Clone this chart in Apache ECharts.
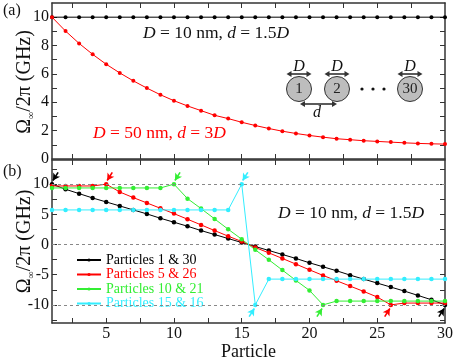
<!DOCTYPE html>
<html><head><meta charset="utf-8">
<script src="https://cdn.jsdelivr.net/npm/echarts@6/dist/echarts.min.js"></script>
<style>html,body{margin:0;padding:0;background:#fff}#c{width:463px;height:360px}</style>
</head><body><div id="c"></div>
<script>
const particles = [1,2,3,4,5,6,7,8,9,10,11,12,13,14,15,16,17,18,19,20,21,22,23,24,25,26,27,28,29,30];
// panel (a)
const aBlack = [10,10,10,10,10,10,10,10,10,10,10,10,10,10,10,10,10,10,10,10,10,10,10,10,10,10,10,10,10,10];
const aRed = [10,9.02,8.15,7.38,6.68,6.07,5.51,5.0,4.53,4.11,3.74,3.41,3.08,2.85,2.59,2.36,2.15,1.96,1.8,1.66,1.54,1.43,1.36,1.29,1.24,1.19,1.14,1.1,1.07,1.05];
// panel (b)
const names = ['Particles 1 & 30','Particles 5 & 26','Particles 10 & 21','Particles 15 & 16'];
const colors = ['#000000','#ff0000','#33ee33','#33eeff'];
const b1 = [10,9.15,8.43,7.71,7.05,6.39,5.73,5.07,4.35,3.69,3.03,2.31,1.65,0.99,0.33,-0.33,-0.99,-1.65,-2.31,-3.03,-3.69,-4.35,-5.07,-5.73,-6.39,-7.05,-7.71,-8.43,-9.15,-10];
const b5 = [9.7,9.7,9.7,9.7,10,8.7,7.77,6.89,6.0,5.12,4.19,3.25,2.31,1.38,0.5,-0.5,-1.38,-2.31,-3.25,-4.19,-5.12,-6.0,-6.89,-7.77,-8.7,-10,-9.7,-9.7,-9.7,-9.7];
const b10 = [9.37,9.37,9.37,9.37,9.37,9.37,9.37,9.37,9.37,10,7.6,5.95,4.24,2.53,0.88,-0.88,-2.53,-4.24,-5.95,-7.6,-10,-9.37,-9.37,-9.37,-9.37,-9.37,-9.37,-9.37,-9.37,-9.37];
const b15 = [5.73,5.73,5.73,5.73,5.73,5.73,5.73,5.73,5.73,5.73,5.73,5.73,5.73,5.73,10,-10,-5.73,-5.73,-5.73,-5.73,-5.73,-5.73,-5.73,-5.73,-5.73,-5.73,-5.73,-5.73,-5.73,-5.73];
const bSeries = [b1,b5,b10,b15];
const refLines = [10,0,-10];
const xTicks = [2.5,5,7.5,10,12.5,15,17.5,20,22.5,25,27.5];
const xLabels = [5,10,15,20,25,30];
const yTicksA = [1,2,3,4,5,6,7,8,9,10];
const yLabelsA = [0,2,4,6,8,10];
const yTicksB = [-12.5,-10,-7.5,-5,-2.5,0,2.5,5,7.5,10,12.5];
const yLabelsB = [-10,-5,0,5,10];

const FONT = 'Liberation Serif';
const AX = '#333';
const pairs = arr => particles.map((p,i)=>[p,arr[i]]);

function xAx(grid, pos, labels){
  return {type:'value', gridIndex:grid, position:pos, min:1, max:30,
    axisLine:{show:true, onZero:false, lineStyle:{color:AX,width:1.5}},
    axisTick:{show:true, inside:true, length:5, customValues:xTicks, lineStyle:{color:AX,width:1}},
    axisLabel:{show:labels, customValues:xLabels, color:'#111', fontFamily:FONT, fontSize:16, margin:3},
    splitLine:{show:false}};
}
function yAx(grid,pos,min,max,ticks,labs,labels){
  return {type:'value', gridIndex:grid, position:pos, min:min, max:max,
    axisLine:{show:true, onZero:false, lineStyle:{color:AX,width:1.5}},
    axisTick:{show:true, inside:true, length:5, customValues:ticks, lineStyle:{color:AX,width:1}},
    axisLabel:{show:labels, customValues:labs, color:'#111', fontFamily:FONT, fontSize:16, margin:3},
    splitLine:{show:false}};
}
const yName = '{o|Ω}{s|∞}{o|/2π (GHz)}';
const nameRich = {o:{fontFamily:FONT,fontSize:20,fill:'#111',lineHeight:22}, s:{fontFamily:FONT,fontSize:10,fill:'#111',verticalAlign:'bottom',lineHeight:22}};

const series = [
  {type:'line', xAxisIndex:0, yAxisIndex:0, data:pairs(aBlack), symbol:'circle', symbolSize:4, color:'#000', lineStyle:{width:1}, silent:true},
  {type:'line', xAxisIndex:0, yAxisIndex:0, data:pairs(aRed), symbol:'circle', symbolSize:4, color:'#ff0000', lineStyle:{width:1}, silent:true}
];
bSeries.forEach((arr,k)=>{
  const iMax = arr.indexOf(Math.max(...arr)), iMin = arr.indexOf(Math.min(...arr));
  const px = particles[iMax], py = arr[iMax], qx = particles[iMin], qy = arr[iMin];
  const s = {type:'line', name:names[k], xAxisIndex:2, yAxisIndex:2, data:pairs(arr), symbol:'circle', symbolSize:4.5, color:colors[k], lineStyle:{width:1}, silent:true,
    markLine:{silent:true, symbol:['none','arrow'], symbolSize:[6,7], label:{show:false}, lineStyle:{color:colors[k], width:1.6, type:'solid'},
      data:[
        [{coord:[px+0.45, py+1.95]},{coord:[px+0.07, py+0.6]}],
        [{coord:[qx-0.45, qy-1.95]},{coord:[qx-0.07, qy-0.6]}]
      ]}};
  series.push(s);
});
series.unshift({type:'line', xAxisIndex:2, yAxisIndex:2, data:[], silent:true,
  markLine:{silent:true, symbol:'none', label:{show:false}, lineStyle:{color:'#888', type:[3,3], width:1}, data:refLines.map(v=>({yAxis:v}))}});

function dblArrow(x1,x2,y,col){
  const h=4, w=3;
  return [
    {type:'line', shape:{x1:x1+h,y1:y,x2:x2-h,y2:y}, style:{stroke:col,lineWidth:1.6}},
    {type:'polygon', shape:{points:[[x1,y],[x1+h+1,y-w],[x1+h+1,y+w]]}, style:{fill:col}},
    {type:'polygon', shape:{points:[[x2,y],[x2-h-1,y-w],[x2-h-1,y+w]]}, style:{fill:col}}
  ];
}
const circ = [[299,89,'1'],[337,89,'2'],[410,89,'30']];
const graphics = [
  {type:'text', left:3, top:3, style:{text:'(a)', font:'16px "Liberation Serif"', fill:'#111'}},
  {type:'text', left:3, top:164, style:{text:'(b)', font:'16px "Liberation Serif"', fill:'#111'}},
  {type:'text', x:25, y:82, rotation:Math.PI/2, style:{text:yName, font:'20px "Liberation Serif"', fill:'#111', align:'center', verticalAlign:'middle', rich:nameRich}},
  {type:'text', x:25, y:241.5, rotation:Math.PI/2, style:{text:yName, font:'20px "Liberation Serif"', fill:'#111', align:'center', verticalAlign:'middle', rich:nameRich}},
  {type:'text', x:248.5, y:352, style:{text:'Particle', font:'18px "Liberation Serif"', fill:'#111', align:'center', verticalAlign:'middle'}},
  {type:'text', x:143, y:33, style:{text:'{i|D} = 10 nm, {i|d} = 1.5{i|D}', font:'17.5px "Liberation Serif"', fill:'#111', verticalAlign:'middle',
     rich:{i:{fontFamily:FONT,fontStyle:'italic',fontSize:17.5,fill:'#111'}}}},
  {type:'text', x:93, y:133, style:{text:'{i|D} = 50 nm, {i|d} = 3{i|D}', font:'17.5px "Liberation Serif"', fill:'#ff0000', verticalAlign:'middle',
     rich:{i:{fontFamily:FONT,fontStyle:'italic',fontSize:17.5,fill:'#ff0000'}}}},
  {type:'text', x:278, y:213, style:{text:'{i|D} = 10 nm, {i|d} = 1.5{i|D}', font:'17.5px "Liberation Serif"', fill:'#111', verticalAlign:'middle',
     rich:{i:{fontFamily:FONT,fontStyle:'italic',fontSize:17.5,fill:'#111'}}}}
];
circ.forEach(([cx,cy,t])=>{
  graphics.push({type:'circle', shape:{cx:cx,cy:cy,r:12.5}, style:{fill:'#bdbdbd', stroke:'#333', lineWidth:1}});
  graphics.push({type:'text', x:cx, y:cy, style:{text:t, font:'15px "Liberation Serif"', fill:'#222', align:'center', verticalAlign:'middle'}});
  graphics.push({type:'text', x:cx, y:67, style:{text:'D', font:'italic 16px "Liberation Serif"', fill:'#111', align:'center', verticalAlign:'middle'}});
  dblArrow(cx-12.5,cx+12.5,74,'#333').forEach(g=>graphics.push(g));
});
[362,373,384].forEach(x=>graphics.push({type:'circle', shape:{cx:x,cy:89,r:1.6}, style:{fill:'#111'}}));
dblArrow(300,337,104,'#333').forEach(g=>graphics.push(g));
graphics.push({type:'text', x:317, y:113, style:{text:'d', font:'italic 16px "Liberation Serif"', fill:'#111', align:'center', verticalAlign:'middle'}});

const chart = echarts.init(document.getElementById('c'), null, {renderer:'canvas'});
chart.setOption({
  animation:false,
  backgroundColor:'#fff',
  grid:[{left:52, right:18, top:3, height:156, outerBoundsMode:'none'},{left:52, right:18, top:160, height:163, outerBoundsMode:'none'}],
  xAxis:[xAx(0,'bottom',false), xAx(0,'top',false), xAx(1,'bottom',true), xAx(1,'top',false)],
  yAxis:[yAx(0,'left',0,11,yTicksA,yLabelsA,true), yAx(0,'right',0,11,yTicksA,yLabelsA,false), yAx(1,'left',-13,14,yTicksB,yLabelsB,true), yAx(1,'right',-13,14,yTicksB,yLabelsB,false)],
  legend:{left:71, top:248, orient:'vertical', itemWidth:24, itemHeight:4, itemGap:0.5,
    data:names.map((n,k)=>({name:n, textStyle:{color:colors[k]}})),
    textStyle:{fontFamily:FONT, fontSize:14, lineHeight:14}},
  series:series,
  graphic:graphics
});
</script></body></html>
